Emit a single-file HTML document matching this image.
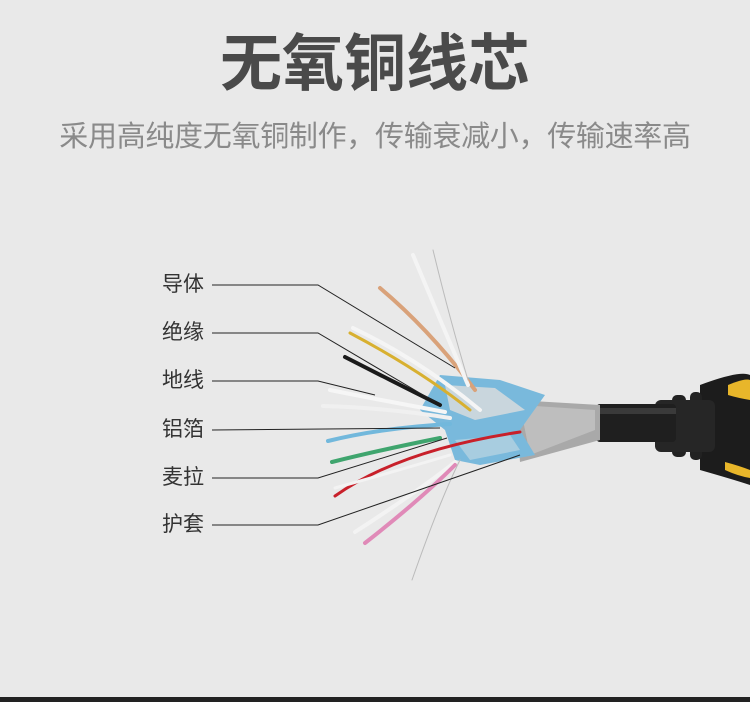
<!DOCTYPE html>
<html><head><meta charset="utf-8"><style>
html,body{margin:0;padding:0}
body{width:750px;height:702px;overflow:hidden;background:#e9e9e9;position:relative;font-family:"Liberation Sans","Noto Sans CJK SC",sans-serif}
.t{position:absolute;left:0;width:750px;text-align:center;top:29px;font-size:62px;font-weight:bold;color:#4a4a4a;line-height:72px}
.s{position:absolute;left:0;width:750px;text-align:center;top:118px;font-size:29px;color:#8a8a8a;line-height:38px;letter-spacing:-0.3px}
.l{position:absolute;left:162px;font-size:21px;color:#333;line-height:24px}
.bar{position:absolute;left:0;top:697px;width:750px;height:5px;background:#222}
svg{position:absolute;left:0;top:0}
</style></head><body>
<div class="t">无氧铜线芯</div>
<div class="s">采用高纯度无氧铜制作，传输衰减小，传输速率高</div>
<div class="l" style="top:273px">导体</div>
<div class="l" style="top:321px">绝缘</div>
<div class="l" style="top:369px">地线</div>
<div class="l" style="top:418px">铝箔</div>
<div class="l" style="top:466px">麦拉</div>
<div class="l" style="top:513px">护套</div>
<svg width="750" height="702" viewBox="0 0 750 702">
<path d="M700 385 Q740 370 750 375 L750 485 Q735 480 700 470 Z" fill="#1c1c1c"/>
<path d="M728 385 Q745 378 750 380 L750 400 Q738 398 728 395 Z" fill="#e8b62a"/>
<path d="M725 462 Q740 466 750 470 L750 478 Q738 476 725 470Z" fill="#e8b62a"/>
<rect x="672" y="395" width="14" height="62" rx="5" fill="#222"/>
<rect x="690" y="392" width="12" height="68" rx="5" fill="#222"/>
<rect x="655" y="400" width="60" height="52" rx="6" fill="#262626"/>
<rect x="596" y="404" width="80" height="38" rx="4" fill="#1f1f1f"/>
<rect x="596" y="408" width="80" height="6" fill="#3a3a3a"/>
<path d="M515 400 L600 405 L600 440 L520 462 Z" fill="#a9a9a9"/>
<path d="M520 405 L595 410 L595 430 L530 455Z" fill="#c8c8c8" opacity=".7"/>
<path d="M440 375 L500 380 L545 395 L520 430 L535 455 L480 465 L455 460 L445 430 L420 410 Z" fill="#79b9dc"/>
<path d="M445 385 L495 388 L525 410 L475 420 L450 410Z" fill="#c9d6dd"/>
<path d="M455 440 L510 435 L520 450 L470 460Z" fill="#a8cde0"/>
<g fill="none" stroke-linecap="round">
<path d="M380 288 Q430 330 475 390" stroke="#d9a27a" stroke-width="4"/>
<path d="M413 255 Q440 320 468 385" stroke="#f4f4f4" stroke-width="4"/>
<path d="M433 250 Q450 320 468 380" stroke="#bbb" stroke-width="1"/>
<path d="M350 333 Q420 370 470 410" stroke="#d8b030" stroke-width="3"/>
<path d="M353 328 Q420 360 480 410" stroke="#f5f5f5" stroke-width="4"/>
<path d="M345 357 Q390 380 440 405" stroke="#1a1a1a" stroke-width="4"/>
<path d="M330 390 Q380 400 445 412" stroke="#f6f6f6" stroke-width="4"/>
<path d="M323 406 Q390 408 450 418" stroke="#f0f0f0" stroke-width="4"/>
<path d="M328 441 Q380 428 450 424" stroke="#72b8dc" stroke-width="4"/>
<path d="M332 462 Q380 450 440 438" stroke="#3fa56e" stroke-width="4"/>
<path d="M335 496 Q400 450 520 432" stroke="#c8202a" stroke-width="3"/>
<path d="M335 488 Q400 470 450 455" stroke="#f3f3f3" stroke-width="3"/>
<path d="M355 532 Q420 490 455 462" stroke="#f3f3f3" stroke-width="4"/>
<path d="M365 543 Q420 500 455 465" stroke="#e08ab8" stroke-width="4"/>
<path d="M412 580 Q440 500 460 460" stroke="#bbb" stroke-width="1"/>
</g>
<g stroke="#222" stroke-width="1" fill="none">
<polyline points="212,285 318,285 455,368"/>
<polyline points="212,333 318,333 435,402"/>
<polyline points="212,381 318,381 375,395"/>
<polyline points="212,430 440,428"/>
<polyline points="212,478 318,478 447,438"/>
<polyline points="212,525 318,525 520,455"/>
</g>
</svg>
<div class="bar"></div>
</body></html>
